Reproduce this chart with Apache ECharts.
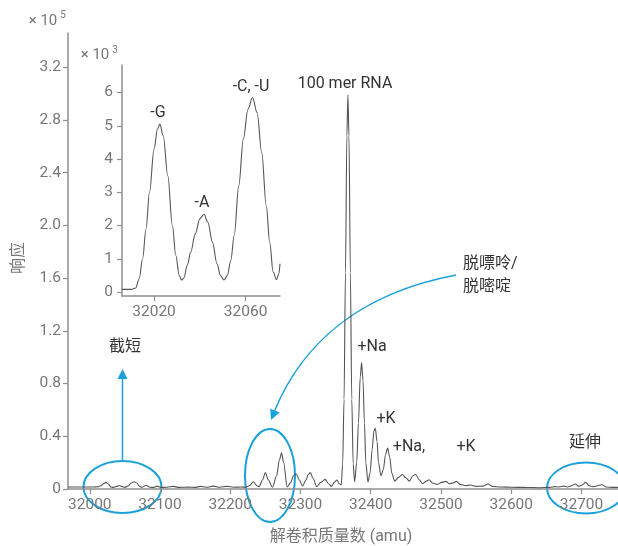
<!DOCTYPE html>
<html>
<head>
<meta charset="utf-8">
<script src="https://cdn.jsdelivr.net/npm/echarts@6/dist/echarts.min.js"></script>
<style>
    html,body{margin:0;padding:0;background:#fff;}
    #chart{width:618px;height:546px;}
</style>
</head>
<body>
<div id="chart"></div>
<script>
// 主谱图数据 (响应 ×10^5)
var massAmu = [31969,32005,32012,32016,32020,32023,32026,32030,32033,32038,32042,32046,32050,32055,32059,32063,32067,32071,32074,32080,32086,32091,32096,32101,32110,32119,32127,32140,32150,32157,32166,32176,32185,32195,32205,32215,32222,32227,32233,32238,32241,32246,32250,32254,32260,32266,32270,32273,32276,32281,32286,32290,32294,32298,32303,32308,32311,32314,32318,32323,32329,32335,32340,32344,32348,32352,32355,32358,32360,32362,32364,32366,32367.5,32369,32371,32373,32375,32377,32380,32382.5,32385,32387,32389,32391,32393,32396,32399,32402,32404.5,32406.5,32409,32411,32414.5,32418,32421,32424,32427,32430,32434,32440,32445,32450,32455,32460,32464,32469,32474,32479,32483,32488,32495,32501,32507,32512,32517,32522,32527,32535,32542,32550,32560,32567,32573,32585,32600,32620,32640,32655,32662,32668,32675,32680,32686,32691,32696,32701,32706,32711,32717,32723,32729,32735,32745,32752];
var response = [0.015,0.015,0.017,0.025,0.042,0.05,0.04,0.015,0.012,0.02,0.027,0.018,0.012,0.025,0.045,0.055,0.045,0.02,0.012,0.028,0.013,0.012,0.022,0.012,0.013,0.02,0.012,0.014,0.012,0.02,0.013,0.022,0.013,0.02,0.013,0.015,0.014,0.025,0.055,0.025,0.017,0.07,0.124,0.07,0.013,0.1,0.22,0.275,0.2,0.015,0.05,0.1,0.114,0.07,0.023,0.07,0.11,0.124,0.08,0.018,0.05,0.073,0.04,0.02,0.05,0.068,0.04,0.03,0.19,0.68,1.64,2.68,2.99,2.68,1.64,0.68,0.19,0.055,0.2,0.5,0.85,0.96,0.82,0.5,0.2,0.053,0.12,0.3,0.44,0.46,0.36,0.2,0.1,0.15,0.26,0.31,0.24,0.12,0.06,0.09,0.11,0.085,0.06,0.1,0.11,0.07,0.04,0.06,0.07,0.045,0.035,0.05,0.058,0.04,0.045,0.058,0.035,0.025,0.03,0.02,0.022,0.038,0.02,0.015,0.013,0.012,0.01,0.012,0.018,0.015,0.022,0.015,0.025,0.038,0.02,0.03,0.05,0.025,0.018,0.025,0.032,0.015,0.012,0.012];

// 插图数据 (响应 ×10^3)
var insetMass = [32006,32010,32012,32013.5,32015,32016.5,32018,32020,32021.5,32022.5,32024,32026,32028,32029.5,32031,32032,32033,32034.5,32036,32038,32040,32041.8,32043.5,32045.5,32047.5,32049,32050.5,32052,32053.5,32055,32057,32059,32061,32063,32065,32067,32069,32070.5,32072,32073.5,32074.5,32075];
var insetResp = [0.08,0.08,0.12,0.4,1.0,1.9,3.0,4.3,4.9,5.05,4.7,3.5,2.0,1.1,0.5,0.36,0.42,0.8,1.2,1.75,2.2,2.34,2.1,1.5,0.85,0.5,0.36,0.5,0.95,1.7,3.2,4.6,5.5,5.85,5.4,4.2,2.6,1.5,0.6,0.37,0.55,0.85];

// 刻度
var xTicks = [32000,32100,32200,32300,32400,32500,32600,32700];
var yTicks = [0,0.4,0.8,1.2,1.6,2.0,2.4,2.8,3.2];
var insetXTicks = [32020,32060];
var insetYTicks = [0,1,2,3,4,5,6];

var FONT = 'Roboto, "Noto Sans CJK SC", sans-serif';
var AXIS_COLOR = '#8f8f8f';
var LABEL_COLOR = '#777';
var TEXT_COLOR = '#333';
var BLUE = '#1aa0dc';

function pairs(xs, ys){
    return xs.map(function(x, i){ return [x, ys[i]]; });
}

function axisBase(ticks, fmt, margin){
    return {
        type: 'value',
        axisLine: { show: true, onZero: false, lineStyle: { color: AXIS_COLOR, width: 1.5 } },
        axisTick: { show: true, length: 5, customValues: ticks, lineStyle: { color: AXIS_COLOR, width: 1.2 } },
        axisLabel: { customValues: ticks, formatter: fmt, color: LABEL_COLOR, fontSize: 15.5, fontFamily: FONT, margin: margin },
        splitLine: { show: false }
    };
}

function txt(text, x, y, size, color, align){
    return {
        type: 'text', silent: true, z: 10,
        style: {
            text: text, x: x, y: y,
            fill: color || TEXT_COLOR,
            font: (size || 16) + 'px ' + FONT,
            align: align || 'center', verticalAlign: 'middle',
            textAlign: align || 'center', textVerticalAlign: 'middle'
        }
    };
}

var chart = echarts.init(document.getElementById('chart'));

var xMain = axisBase(xTicks, function(v){ return String(v); }, 8);
xMain.min = 31969; xMain.max = 32752; xMain.gridIndex = 0; xMain.position = 'bottom';
var yMain = axisBase(yTicks, function(v){ return v === 0 ? '0' : v.toFixed(1); }, 7);
yMain.min = 0; yMain.max = 3.46; yMain.gridIndex = 0;

var xIn = axisBase(insetXTicks, function(v){ return String(v); }, 8);
xIn.min = 32006; xIn.max = 32075; xIn.gridIndex = 1; xIn.position = 'bottom';
var yIn = axisBase(insetYTicks, function(v){ return String(v); }, 9);
yIn.min = -0.12; yIn.max = 6.83; yIn.gridIndex = 1;

var lineStyle = { color: '#555', width: 1.1 };

chart.setOption({
    animation: false,
    grid: [
        { left: 68, right: 0, top: 33, bottom: 57 },
        { left: 122, top: 65, width: 158, height: 231 }
    ],
    xAxis: [xMain, xIn],
    yAxis: [yMain, yIn],
    series: [
        {
            type: 'line', xAxisIndex: 0, yAxisIndex: 0,
            data: pairs(massAmu, response),
            showSymbol: false, smooth: 0.3, smoothMonotone: 'x',
            lineStyle: lineStyle
        },
        {
            type: 'line', xAxisIndex: 1, yAxisIndex: 1,
            data: pairs(insetMass, insetResp),
            showSymbol: false, smooth: 0.35, smoothMonotone: 'x',
            lineStyle: lineStyle
        }
    ],
    graphic: { elements: [
        // 轴标题与量级
        txt('\u00d7 10', 43, 21, 15, LABEL_COLOR),
        txt('5', 63, 15, 10, LABEL_COLOR),
        txt('\u00d7 10', 95, 55, 15, LABEL_COLOR),
        txt('3', 115, 50, 10, LABEL_COLOR),
        txt('解卷积质量数 (amu)', 341, 537, 16, LABEL_COLOR),
        {
            type: 'text', silent: true, rotation: Math.PI / 2, x: 19, y: 258,
            style: { text: '响应', x: 0, y: 0, fill: LABEL_COLOR, font: '16px ' + FONT,
                align: 'center', verticalAlign: 'middle', textAlign: 'center', textVerticalAlign: 'middle' }
        },
        // 峰标注
        txt('100 mer RNA', 345, 84, 16),
        txt('+Na', 372, 347, 16),
        txt('+K', 386, 419, 16),
        txt('+Na,', 409, 447, 16),
        txt('+K', 466, 447, 16),
        txt('-G', 158, 113, 16),
        txt('-A', 202, 203, 16),
        txt('-C, -U', 251, 87, 16),
        txt('截短', 125, 347, 16),
        txt('延伸', 585, 443, 16),
        txt('脱嘌呤/', 463, 264, 16, TEXT_COLOR, 'left'),
        txt('脱嘧啶', 463, 287, 16, TEXT_COLOR, 'left'),
        // 蓝色圈与箭头
        { type: 'ellipse', silent: true, shape: { cx: 122.5, cy: 487, rx: 39, ry: 26 },
          style: { fill: null, stroke: BLUE, lineWidth: 2 } },
        { type: 'ellipse', silent: true, shape: { cx: 270, cy: 475.5, rx: 25, ry: 46.5 },
          style: { fill: null, stroke: BLUE, lineWidth: 2 } },
        { type: 'ellipse', silent: true, shape: { cx: 586, cy: 488, rx: 39, ry: 25.5 },
          style: { fill: null, stroke: BLUE, lineWidth: 2 } },
        { type: 'line', silent: true, shape: { x1: 122.5, y1: 461, x2: 122.5, y2: 377 },
          style: { stroke: BLUE, lineWidth: 1.5 } },
        { type: 'polygon', silent: true, shape: { points: [[122.5, 369], [117.5, 379], [127.5, 379]] },
          style: { fill: BLUE } },
        { type: 'bezierCurve', silent: true,
          shape: { x1: 456, y1: 275, cpx1: 356, cpy1: 294, cpx2: 301, cpy2: 346.6, x2: 274.5, y2: 411 },
          style: { fill: null, stroke: BLUE, lineWidth: 1.5 } },
        { type: 'polygon', silent: true, shape: { points: [[271, 420], [279.6, 412.6], [270.2, 408.8]] },
          style: { fill: BLUE } }
    ]}
});
</script>
</body>
</html>
